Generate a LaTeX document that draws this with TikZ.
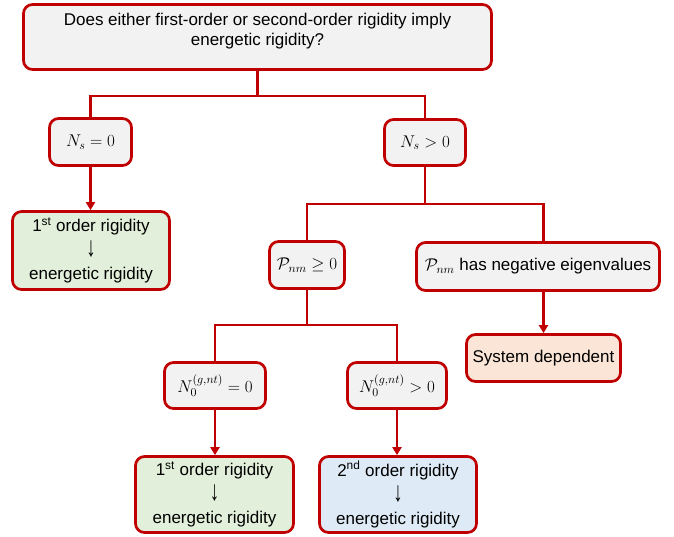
\RequirePackage{fix-cm}
\documentclass[tikz,border=0pt]{standalone}
\usepackage{fontspec}
\setmainfont{Liberation Sans}
\usetikzlibrary{arrows.meta}
\definecolor{boxred}{RGB}{192,0,0}
\definecolor{boxgray}{RGB}{242,242,242}
\definecolor{boxgreen}{RGB}{226,239,218}
\definecolor{boxblue}{RGB}{222,235,247}
\definecolor{boxorange}{RGB}{251,229,214}
\newcommand{\yields}{\raisebox{-1pt}[12pt][4pt]{\scalebox{1.1}[1.65]{↓}}}
\begin{document}
\begin{tikzpicture}[x=1pt, y=-1pt,
  every node/.style = {shape=rectangle, rounded corners=9pt,
    draw=boxred, line width=2.7pt, align=center, inner sep=0pt,
    fill=boxgray, font=\fontsize{17}{20}\selectfont},
  result/.style = {font=\fontsize{17}{24}\selectfont},
  link/.style = {draw=boxred, line width=2.9pt},
  arr/.style = {link, -{Triangle[length=8pt,width=9pt]}}]
  \useasboundingbox (0,0) rectangle (674,536);
  \node[minimum width=468pt, minimum height=65pt] (question) at (257.5,37)
    {Does either first-order or second-order rigidity imply\\energetic rigidity?\rule[-16pt]{0pt}{16pt}};
  \node[minimum width=82pt, minimum height=47pt] (ns0) at (90.5,142) {$N_s = 0$};
  \node[minimum width=81pt, minimum height=46pt] (nsp) at (425,142.5) {$N_s > 0$};
  \node[result, fill=boxgreen, minimum width=157pt, minimum height=78pt] (first1) at (91,250.5)
    {1\textsuperscript{st} order rigidity\\\yields\\energetic rigidity};
  \node[minimum width=75pt, minimum height=47pt] (pge) at (307,265) {$\mathcal{P}_{nm} \geq 0$};
  \node[minimum width=243pt, minimum height=48pt] (pneg) at (538,266.5) {$\mathcal{P}_{nm}$ has negative eigenvalues};
  \node[fill=boxorange, minimum width=154pt, minimum height=47pt] (sysdep) at (543.5,358) {System dependent};
  \node[minimum width=101pt, minimum height=46pt] (n0z) at (215,385.5) {$N_0^{(g,nt)} = 0$};
  \node[minimum width=99pt, minimum height=46pt] (n0p) at (397,385.5) {$N_0^{(g,nt)} > 0$};
  \node[result, fill=boxgreen, minimum width=158pt, minimum height=76pt] (first2) at (214.5,494.5)
    {1\textsuperscript{st} order rigidity\\\yields\\energetic rigidity};
  \node[result, fill=boxblue, minimum width=157pt, minimum height=76pt] (second) at (398,494.5)
    {2\textsuperscript{nd} order rigidity\\\yields\\energetic rigidity};
  \coordinate (split1) at (0,96);
  \coordinate (split2) at (0,204);
  \coordinate (split3) at (0,325);
  \draw[link] (question.south) -- (question.south |- split1);
  \draw[link] (ns0.north) -- (ns0.north |- split1) -- (nsp.north |- split1) -- (nsp.north);
  \draw[arr] (ns0.south) -- (ns0.south |- first1.north);
  \draw[link] (nsp.south) -- (nsp.south |- split2);
  \draw[link] (pge.north) -- (pge.north |- split2) -- (sysdep.north |- split2) -- (sysdep.north |- pneg.north);
  \draw[arr] (sysdep.north |- pneg.south) -- (sysdep.north);
  \draw[link] (pge.south) -- (pge.south |- split3);
  \draw[link] (n0z.north) -- (n0z.north |- split3) -- (n0p.north |- split3) -- (n0p.north);
  \draw[arr] (n0z.south) -- (n0z.south |- first2.north);
  \draw[arr] (n0p.south) -- (n0p.south |- second.north);
\end{tikzpicture}
\end{document}
